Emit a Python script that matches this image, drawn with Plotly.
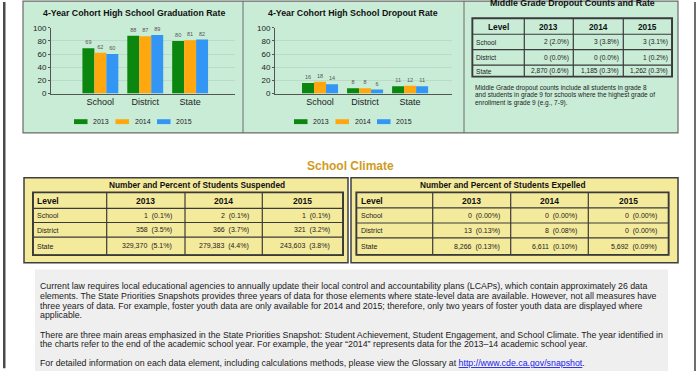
import itertools
import plotly.graph_objects as go

W, H = 700, 381
FONT = "Arial, Liberation Sans, sans-serif"

# ---------------- data ----------------
levels = ["School", "District", "State"]
years = ["2013", "2014", "2015"]
grad_2013 = [69, 88, 80]
grad_2014 = [62, 87, 81]
grad_2015 = [60, 89, 82]
drop_2013 = [16, 8, 11]
drop_2014 = [18, 8, 12]
drop_2015 = [14, 6, 11]
mg_2013 = ["2 (2.0%)", "0 (0.0%)", "2,870 (0.6%)"]
mg_2014 = ["3 (3.8%)", "0 (0.0%)", "1,185 (0.3%)"]
mg_2015 = ["3 (3.1%)", "1 (0.2%)", "1,262 (0.3%)"]
susp_2013 = ["1\u00a0 (0.1%)", "358\u00a0 (3.5%)", "329,370\u00a0 (5.1%)"]
susp_2014 = ["2\u00a0 (0.1%)", "366\u00a0 (3.7%)", "279,383\u00a0 (4.4%)"]
susp_2015 = ["1\u00a0 (0.1%)", "321\u00a0 (3.2%)", "243,603\u00a0 (3.8%)"]
exp_2013 = ["0\u00a0 (0.00%)", "13\u00a0 (0.13%)", "8,266\u00a0 (0.13%)"]
exp_2014 = ["0\u00a0 (0.00%)", "8\u00a0 (0.08%)", "6,611\u00a0 (0.10%)"]
exp_2015 = ["0\u00a0 (0.00%)", "0\u00a0 (0.00%)", "5,692\u00a0 (0.09%)"]

note_lines = [
    "Middle Grade dropout counts include all students in grade 8",
    "and students in grade 9 for schools where the highest grade of",
    "enrollment is grade 9 (e.g., 7-9).",
]
body_lines = [
    "Current law requires local educational agencies to annually update their local control and accountability plans (LCAPs), which contain approximately 26 data",
    "elements. The State Priorities Snapshots provides three years of data for those elements where state-level data are available. However, not all measures have",
    "three years of data. For example, foster youth data are only available for 2014 and 2015; therefore, only two years of foster youth data are displayed where",
    "applicable.",
    "",
    "There are three main areas emphasized in the State Priorities Snapshot: Student Achievement, Student Engagement, and School Climate. The year identified in",
    "the charts refer to the end of the academic school year. For example, the year \u201c2014\u201d represents data for the 2013\u201314 academic school year.",
    "",
    "For detailed information on each data element, including calculations methods, please view the Glossary at "
    "<span style='color:#1a1aee'><u>http://www.cde.ca.gov/snapshot</u></span>.",
]

# ---------------- styles ----------------
COLORS = ["#0b870f", "#ffa70f", "#3396f5"]
MINT = "#c9ecd7"
YELLOW = "#f4ea9c"
GOLD = "#cf9b22"
LINE = "#3a3a3a"


def px(x):
    return x / W


def py(y):
    return 1 - y / H


fig = go.Figure()

# bar charts
for i, (g, d) in enumerate(zip([grad_2013, grad_2014, grad_2015],
                               [drop_2013, drop_2014, drop_2015])):
    for vals, xa, ya in [(g, "x", "y"), (d, "x2", "y2")]:
        fig.add_trace(go.Bar(
            x=levels, y=vals, name=years[i], marker_color=COLORS[i],
            marker_line_width=0, text=vals, textposition="outside",
            textfont=dict(size=5.5, color="#555", family=FONT),
            cliponaxis=False, xaxis=xa, yaxis=ya, showlegend=False,
            hoverinfo="skip"))

shapes = []
annotations = []


def rect(x0, y0, x1, y1, fill, line=None, lw=0):
    shapes.append(dict(type="rect", xref="paper", yref="paper", layer="below",
                       x0=px(x0), x1=px(x1), y0=py(y1), y1=py(y0), fillcolor=fill,
                       line=dict(color=line or fill, width=lw)))


def seg(x0, y0, x1, y1, color, lw):
    shapes.append(dict(type="line", xref="paper", yref="paper", layer="below",
                       x0=px(x0), x1=px(x1), y0=py(y0), y1=py(y1),
                       line=dict(color=color, width=lw)))


def text(x, y, s, size, color="#111", bold=False, anchor="center"):
    annotations.append(dict(x=px(x), y=py(y), xref="paper", yref="paper",
                            text=("<b>%s</b>" % s) if bold else s, showarrow=False,
                            xanchor=anchor, yanchor="middle",
                            font=dict(size=size, color=color, family=FONT)))


def draw_table(x0, colw, y0, rowh, cols, header_align, hsize, csize, pad_l, pad_r):
    xe = [x0] + [x0 + s for s in itertools.accumulate(colw)]
    ye = [y0] + [y0 + s for s in itertools.accumulate(rowh)]
    for y in ye:
        seg(xe[0], y, xe[-1], y, LINE, 1.2)
    for x in xe:
        seg(x, ye[0], x, ye[-1], LINE, 1.2)
    rect(xe[0] - 0.5, ye[0] - 0.5, xe[-1] + 0.5, ye[-1] + 0.5, "rgba(0,0,0,0)", LINE, 1.6)
    header = ["Level"] + years
    for j, h in enumerate(header):
        a = header_align[j]
        hx = xe[j] + pad_l if a == "left" else (xe[j] + xe[j + 1]) / 2
        text(hx, (ye[0] + ye[1]) / 2 + 0.5, h, hsize, "#111", True, a)
    for i, lev in enumerate(levels):
        cy = (ye[i + 1] + ye[i + 2]) / 2 + 0.5
        text(xe[0] + pad_l, cy, lev, csize, "#222", False, "left")
        for j, col in enumerate(cols):
            text(xe[j + 2] - pad_r, cy, col[i], csize, "#222", False, "right")


# page background pieces
rect(23, -3, 678, 132, MINT, "#6a6a6a", 1.2)
seg(243, -3, 243, 132, "#6a6a6a", 1)
seg(464, -3, 464, 132, "#6a6a6a", 1)
rect(24, 178, 348, 265, YELLOW, "#3f3f3f", 1.5)
rect(351, 178, 678, 265, YELLOW, "#3f3f3f", 1.5)
rect(35, 272, 668, 376, "#efefef")
rect(3, -2, 5.5, 373, "#4a4a4a")
rect(694, -2, 696, 376, "#6e6e6e")

# tables
draw_table(472.7, [51.6, 49, 50, 48.4], 15, [16, 15.7, 16, 11.3],
           [mg_2013, mg_2014, mg_2015], ["center"] * 4, 8.3, 6.6, 1.2, 2)
draw_table(33.3, [73.4, 78.3, 77.3, 80.4], 193.3, [16, 14.5, 15, 18],
           [susp_2013, susp_2014, susp_2015], ["left", "center", "center", "center"],
           8.5, 7, 2, 11)
draw_table(356.7, [76, 78, 77.6, 80], 193.3, [15.5, 15.5, 15.3, 17],
           [exp_2013, exp_2014, exp_2015], ["left", "center", "center", "center"],
           8.5, 7, 2, 9)

text(134, 9, "4-Year Cohort High School Graduation Rate", 8.8, bold=True)
text(353, 9, "4-Year Cohort High School Dropout Rate", 8.8, bold=True)
text(572, -1.5, "Middle Grade Dropout Counts and Rate", 8.8, bold=True)
for i, s in enumerate(note_lines):
    text(473, 86 + 7.6 * i, s, 6.5, "#222", anchor="left")
text(350, 166, "School Climate", 12, GOLD, bold=True)
text(197, 185, "Number and Percent of Students Suspended", 8.3, bold=True)
text(503, 185, "Number and Percent of Students Expelled", 8.3, bold=True)

# legends
for base in (74, 294):
    for i, yr in enumerate(years):
        x0 = base + 41.5 * i
        rect(x0, 118, x0 + 13.5, 123, COLORS[i])
        text(x0 + 17, 120.5, yr, 7, "#222", anchor="left")

# body text
yy = 289
for s in body_lines:
    if s:
        text(37.5, yy, s, 8.8, "#1a1a1a", anchor="left")
    yy += 10 if s else 9.5

ax_common = dict(showgrid=False, zeroline=False, showline=True, linecolor="#555",
                 linewidth=1, ticks="", tickfont=dict(size=9, color="#222", family=FONT),
                 fixedrange=True)
ay_common = dict(range=[0, 100], tickvals=[0, 20, 40, 60, 80, 100], showgrid=True,
                 gridcolor="rgba(0,0,0,0.07)", gridwidth=1, zeroline=False,
                 showline=True, linecolor="#555", linewidth=1, ticks="outside",
                 ticklen=2, tickcolor="#555",
                 tickfont=dict(size=8, color="#222", family=FONT), fixedrange=True)

fig.update_layout(
    width=W, height=H, margin=dict(l=0, r=0, t=0, b=0),
    paper_bgcolor="white", plot_bgcolor="rgba(0,0,0,0)",
    barmode="group", bargap=0.2, bargroupgap=0,
    font=dict(family=FONT),
    xaxis=dict(domain=[px(51), px(235)], range=[-1.1, 3.0], anchor="y", **ax_common),
    yaxis=dict(domain=[py(91.7), py(24.3)], anchor="x", **ay_common),
    xaxis2=dict(domain=[px(275), px(452)], range=[-1.0, 2.93], anchor="y2", **ax_common),
    yaxis2=dict(domain=[py(91.7), py(24.3)], anchor="x2", **ay_common),
    shapes=shapes, annotations=annotations,
)

fig.write_html("out.html", config={"displayModeBar": False},
               post_script="document.body.style.margin='0px';")
